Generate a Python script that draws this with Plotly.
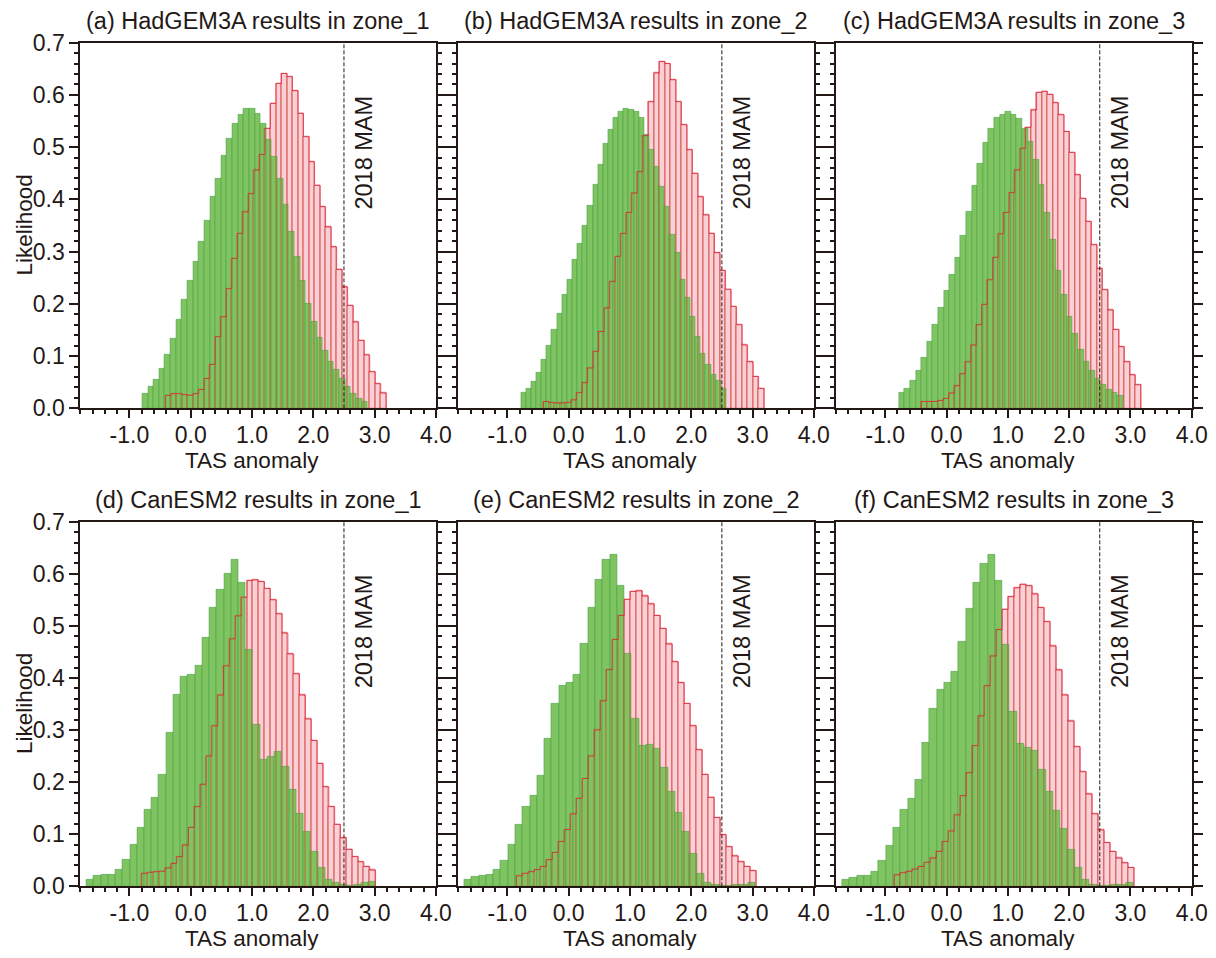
import plotly.graph_objects as go

# ---------------- data ----------------
titles = ["(a) HadGEM3A results in zone_1", "(b) HadGEM3A results in zone_2",
          "(c) HadGEM3A results in zone_3", "(d) CanESM2 results in zone_1",
          "(e) CanESM2 results in zone_2", "(f) CanESM2 results in zone_3"]

x_title = "TAS anomaly"
y_title = "Likelihood"
event_x = 2.5
event_label = "2018 MAM"

# histogram bin starts and widths (TAS anomaly), 40 bins per series
green_start = [-0.79, -0.777, -0.777, -1.70, -1.70, -1.70]
green_width = [0.0919, 0.0837, 0.0914, 0.118, 0.1186, 0.1186]
pink_start = [-0.41, -0.41, -0.41, -0.80, -0.852, -0.852]
pink_width = [0.090, 0.090, 0.0895, 0.0954, 0.0978, 0.0978]

green_a = [0.028, 0.041, 0.055, 0.076, 0.102, 0.133, 0.169, 0.207, 0.245, 0.280,
           0.319, 0.360, 0.405, 0.440, 0.483, 0.517, 0.544, 0.563, 0.574, 0.573,
           0.565, 0.545, 0.515, 0.481, 0.440, 0.390, 0.338, 0.290, 0.245, 0.200,
           0.165, 0.135, 0.111, 0.089, 0.073, 0.057, 0.042, 0.028, 0.019, 0.012]
pink_a = [0.025, 0.028, 0.028, 0.026, 0.025, 0.028, 0.036, 0.057, 0.084, 0.137,
          0.175, 0.229, 0.287, 0.335, 0.376, 0.411, 0.456, 0.486, 0.536, 0.584,
          0.622, 0.641, 0.635, 0.608, 0.565, 0.520, 0.472, 0.427, 0.386, 0.347,
          0.309, 0.266, 0.232, 0.197, 0.165, 0.130, 0.102, 0.070, 0.047, 0.029]

green_b = [0.029, 0.038, 0.051, 0.068, 0.093, 0.119, 0.151, 0.182, 0.217, 0.247,
           0.285, 0.316, 0.350, 0.388, 0.428, 0.466, 0.506, 0.533, 0.556, 0.568,
           0.573, 0.572, 0.567, 0.557, 0.524, 0.496, 0.463, 0.425, 0.386, 0.332,
           0.297, 0.246, 0.211, 0.176, 0.137, 0.105, 0.083, 0.064, 0.053, 0.038]
pink_b = [0.013, 0.011, 0.010, 0.010, 0.011, 0.016, 0.030, 0.049, 0.077, 0.109,
          0.147, 0.192, 0.243, 0.291, 0.335, 0.375, 0.412, 0.453, 0.522, 0.587,
          0.642, 0.664, 0.660, 0.629, 0.587, 0.543, 0.495, 0.450, 0.405, 0.370,
          0.335, 0.298, 0.264, 0.228, 0.195, 0.160, 0.121, 0.089, 0.061, 0.038]

green_c = [0.029, 0.038, 0.053, 0.072, 0.097, 0.128, 0.160, 0.193, 0.225, 0.255,
           0.289, 0.331, 0.377, 0.426, 0.469, 0.508, 0.535, 0.556, 0.563, 0.567,
           0.563, 0.554, 0.536, 0.511, 0.476, 0.428, 0.374, 0.323, 0.264, 0.217,
           0.176, 0.143, 0.112, 0.090, 0.072, 0.057, 0.046, 0.036, 0.029, 0.024]
pink_c = [0.013, 0.013, 0.013, 0.015, 0.019, 0.029, 0.043, 0.066, 0.089, 0.121,
          0.160, 0.199, 0.246, 0.289, 0.334, 0.375, 0.413, 0.456, 0.498, 0.538,
          0.571, 0.605, 0.607, 0.601, 0.585, 0.562, 0.530, 0.490, 0.447, 0.402,
          0.358, 0.313, 0.268, 0.227, 0.188, 0.151, 0.118, 0.089, 0.064, 0.045]

green_d = [0.013, 0.020, 0.022, 0.022, 0.031, 0.052, 0.079, 0.113, 0.148, 0.170,
           0.215, 0.295, 0.367, 0.402, 0.407, 0.424, 0.477, 0.534, 0.570, 0.600,
           0.628, 0.582, 0.454, 0.310, 0.243, 0.248, 0.258, 0.230, 0.185, 0.140,
           0.105, 0.067, 0.035, 0.013, 0.006, 0.003, 0.001, 0.004, 0.006, 0.008]
pink_d = [0.025, 0.027, 0.028, 0.029, 0.035, 0.044, 0.057, 0.079, 0.113, 0.153,
          0.196, 0.250, 0.308, 0.367, 0.423, 0.475, 0.519, 0.555, 0.587, 0.588,
          0.585, 0.572, 0.550, 0.523, 0.486, 0.446, 0.408, 0.367, 0.321, 0.280,
          0.236, 0.191, 0.153, 0.119, 0.093, 0.071, 0.057, 0.047, 0.038, 0.031]

green_e = [0.013, 0.019, 0.020, 0.022, 0.031, 0.050, 0.079, 0.118, 0.153, 0.174,
           0.212, 0.284, 0.351, 0.386, 0.390, 0.407, 0.466, 0.535, 0.589, 0.628,
           0.637, 0.577, 0.446, 0.321, 0.269, 0.271, 0.265, 0.228, 0.182, 0.141,
           0.105, 0.062, 0.025, 0.006, 0.003, 0.001, 0.001, 0.003, 0.004, 0.006]
pink_e = [0.020, 0.025, 0.028, 0.032, 0.038, 0.051, 0.065, 0.086, 0.109, 0.139,
          0.169, 0.207, 0.250, 0.300, 0.356, 0.416, 0.474, 0.520, 0.551, 0.566,
          0.567, 0.557, 0.542, 0.520, 0.495, 0.465, 0.431, 0.391, 0.351, 0.308,
          0.262, 0.215, 0.171, 0.132, 0.099, 0.076, 0.058, 0.047, 0.038, 0.030]

green_f = [0.013, 0.017, 0.020, 0.020, 0.029, 0.049, 0.077, 0.113, 0.148, 0.169,
           0.205, 0.276, 0.341, 0.377, 0.390, 0.412, 0.470, 0.533, 0.583, 0.619,
           0.636, 0.587, 0.463, 0.335, 0.273, 0.266, 0.260, 0.224, 0.182, 0.145,
           0.111, 0.070, 0.035, 0.013, 0.004, 0.001, 0.001, 0.004, 0.004, 0.007]
pink_f = [0.022, 0.026, 0.029, 0.033, 0.038, 0.046, 0.054, 0.067, 0.086, 0.106,
          0.137, 0.174, 0.218, 0.270, 0.327, 0.385, 0.442, 0.493, 0.532, 0.556,
          0.573, 0.580, 0.577, 0.561, 0.535, 0.508, 0.461, 0.415, 0.367, 0.317,
          0.268, 0.220, 0.177, 0.139, 0.108, 0.084, 0.067, 0.054, 0.045, 0.036]

green_series = [green_a, green_b, green_c, green_d, green_e, green_f]
pink_series = [pink_a, pink_b, pink_c, pink_d, pink_e, pink_f]

x_ticks = [-1.0, 0.0, 1.0, 2.0, 3.0, 4.0]
x_tick_labels = ["-1.0", "0.0", "1.0", "2.0", "3.0", "4.0"]
y_ticks = [0.0, 0.1, 0.2, 0.3, 0.4, 0.5, 0.6, 0.7]
y_tick_labels = ["0.0", "0.1", "0.2", "0.3", "0.4", "0.5", "0.6", "0.7"]

# ---------------- style ----------------
PAGE_W, PAGE_H = 1216, 958
OFF = 8                      # default page body margin
W, H = PAGE_W - 2 * OFF, PAGE_H - 2 * OFF
FONT = "Liberation Sans, Arial, sans-serif"
INK = "#231815"
GREEN_FILL = "#7FC460"
GREEN_LINE = "rgba(60,155,65,0.7)"
PINK_FILL = "#FAD0D8"
PINK_LINE = "rgba(232,70,95,0.55)"
PINK_EDGE = "rgba(222,30,55,0.7)"
PINK_LINE_OVER = "rgba(205,70,40,0.5)"

# panel boxes in page pixels
col_px = [(80.4, 435.9), (458.3, 813.8), (836.2, 1191.7)]
row_px = [(42.7, 408.3), (521.7, 886.3)]


def fx(px):
    return (px - OFF) / W


def fy(py):
    return 1 - (py - OFF) / H


fig = go.Figure()
annotations = []
shapes = []

for i in range(6):
    r, c = divmod(i, 3)
    n = i + 1
    xa = "x" if n == 1 else f"x{n}"
    ya = "y" if n == 1 else f"y{n}"

    gvals, pvals = green_series[i], pink_series[i]
    gx = [green_start[i] + (k + 0.5) * green_width[i] for k in range(len(gvals))]
    pxs = [pink_start[i] + (k + 0.5) * pink_width[i] for k in range(len(pvals))]
    # step outline of the pink histogram (bin edges from start/width)
    step_x = [pink_start[i]] + [pink_start[i] + k * pink_width[i] for k in range(len(pvals))] \
        + [pink_start[i] + len(pvals) * pink_width[i]]
    step_y = [0] + list(pvals) + [0]

    fig.add_trace(go.Bar(x=pxs, y=pvals, width=pink_width[i], xaxis=xa, yaxis=ya,
                         marker=dict(color=PINK_FILL, line=dict(color=PINK_LINE, width=0.8)),
                         showlegend=False, hoverinfo="x+y"))
    fig.add_trace(go.Bar(x=gx, y=gvals, width=green_width[i], xaxis=xa, yaxis=ya,
                         marker=dict(color=GREEN_FILL, line=dict(color=GREEN_LINE, width=0.7)),
                         showlegend=False, hoverinfo="x+y"))
    fig.add_trace(go.Bar(x=pxs, y=pvals, width=pink_width[i], xaxis=xa, yaxis=ya,
                         marker=dict(color="rgba(0,0,0,0)", line=dict(color=PINK_LINE_OVER, width=0.8)),
                         showlegend=False, hoverinfo="skip"))
    fig.add_trace(go.Scatter(x=step_x, y=step_y, xaxis=xa, yaxis=ya, mode="lines",
                             line=dict(color=PINK_EDGE, width=1, shape="hv"),
                             showlegend=False, hoverinfo="skip"))

    x0, x1 = col_px[c]
    y0, y1 = row_px[r]
    xdom = [fx(x0), fx(x1)]
    ydom = [fy(y1), fy(y0)]

    xkey = "xaxis" if n == 1 else f"xaxis{n}"
    ykey = "yaxis" if n == 1 else f"yaxis{n}"
    fig.layout[xkey] = dict(
        domain=xdom, anchor=ya, range=[-1.8, 4.0], showgrid=False, zeroline=False,
        automargin=False,
        showline=True, linecolor=INK, linewidth=2, mirror=True,
        ticks="outside", ticklen=8, tickwidth=2, tickcolor=INK,
        tickvals=x_ticks, ticktext=x_tick_labels, ticklabelstandoff=-3,
        tickfont=dict(family=FONT, size=23, color=INK),
        minor=dict(dtick=0.2, tick0=-1.8, ticks="outside", ticklen=4, tickwidth=1.5, tickcolor=INK),
        fixedrange=True,
    )
    fig.layout[ykey] = dict(
        domain=ydom, anchor=xa, range=[0, 0.7], showgrid=False, zeroline=False,
        automargin=False,
        showline=True, linecolor=INK, linewidth=2, mirror="ticks",
        ticks="outside", ticklen=9, tickwidth=2, tickcolor=INK,
        tickvals=y_ticks, ticktext=y_tick_labels, showticklabels=(c == 0),
        tickfont=dict(family=FONT, size=23, color=INK),
        minor=dict(dtick=0.02, ticks="outside", ticklen=4, tickwidth=1.5, tickcolor=INK),
        fixedrange=True,
    )

    shapes.append(dict(type="line", xref=xa, yref=ya, x0=event_x, x1=event_x, y0=0, y1=0.7,
                       line=dict(color=INK, width=1, dash="4px,2px"), layer="above"))
    annotations.append(dict(xref=xa, yref=ya, x=2.83, y=0.49, text=event_label, textangle=-90,
                            showarrow=False, xanchor="center", yanchor="middle",
                            font=dict(family=FONT, size=23.5, color=INK)))
    # panel title
    annotations.append(dict(xref="paper", yref="paper", x=fx((x0 + x1) / 2),
                            y=fy(y0 - 22), text=titles[i], showarrow=False,
                            xanchor="center", yanchor="middle",
                            font=dict(family=FONT, size=23.5, color=INK)))
    # x axis title
    annotations.append(dict(xref=xa, yref="paper", x=1.0, y=fy(y1 + 52), text=x_title,
                            showarrow=False, xanchor="center", yanchor="middle", borderpad=0,
                            font=dict(family=FONT, size=22.5, color=INK)))
    if c == 0:
        annotations.append(dict(xref="paper", yref="paper", x=fx(24), y=fy((y0 + y1) / 2),
                                text=y_title, textangle=-90, showarrow=False,
                                xanchor="center", yanchor="middle",
                                font=dict(family=FONT, size=22.5, color=INK)))

fig.update_layout(
    width=W, height=H, margin=dict(l=0, r=0, t=0, b=0),
    paper_bgcolor="white", plot_bgcolor="white",
    barmode="overlay", bargap=0,
    shapes=shapes, annotations=annotations,
    font=dict(family=FONT, color=INK),
)

fig.write_html("out.html")
